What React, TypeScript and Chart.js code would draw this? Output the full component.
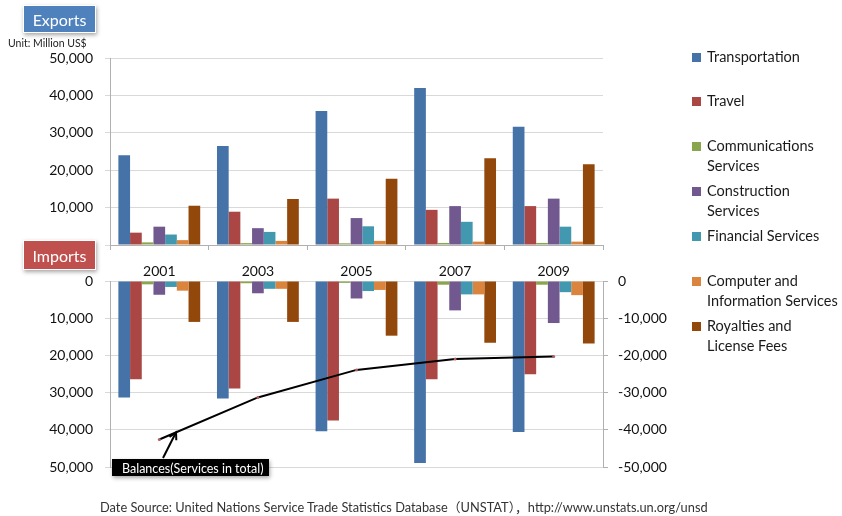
import React, { useEffect, useRef } from 'react';
import { Chart, registerables } from 'chart.js';

Chart.register(...registerables);

// Categories
const years = ['2001', '2003', '2005', '2007', '2009'];

// Series names (legend order)
const seriesNames = [
  'Transportation',
  'Travel',
  'Communications Services',
  'Construction Services',
  'Financial Services',
  'Computer and Information Services',
  'Royalties and License Fees',
];

// Legend labels as they wrap
const legendLines = [
  ['Transportation'],
  ['Travel'],
  ['Communications', 'Services'],
  ['Construction', 'Services'],
  ['Financial Services'],
  ['Computer and', 'Information Services'],
  ['Royalties and', 'License Fees'],
];

const seriesColors = ['#4572A7', '#AA4643', '#89A54E', '#71588F', '#4198AF', '#DB843D', '#93480B'];

// Exports (Million US$)
const exTransportation = [24000, 26500, 35800, 42000, 31600];
const exTravel = [3300, 8900, 12400, 9400, 10400];
const exCommunications = [700, 500, 450, 550, 550];
const exConstruction = [4900, 4500, 7200, 10400, 12400];
const exFinancial = [2800, 3500, 5000, 6200, 4900];
const exComputer = [1300, 1100, 1100, 900, 900];
const exRoyalties = [10500, 12300, 17700, 23200, 21600];

// Imports (Million US$)
const imTransportation = [31300, 31600, 40400, 48900, 40600];
const imTravel = [26400, 28900, 37500, 26400, 25100];
const imCommunications = [900, 600, 500, 1000, 1000];
const imConstruction = [3700, 3300, 4700, 7900, 11300];
const imFinancial = [1600, 2100, 2700, 3600, 3000];
const imComputer = [2600, 2100, 2400, 3600, 3800];
const imRoyalties = [11000, 11000, 14700, 16600, 16800];

// Services balance in total
const balanceTotal = [-42600, -31300, -23900, -21000, -20300];

// Axis tick range
const axisMax = 50000;
const axisStep = 10000;

const FONT = 'Lato, "Open Sans", sans-serif';
const GRID = '#d9d9d9';
const AXIS = '#b0b0b0';
const TEXT = '#111';

const exportSeries = [exTransportation, exTravel, exCommunications, exConstruction, exFinancial, exComputer, exRoyalties];
const importSeries = [imTransportation, imTravel, imCommunications, imConstruction, imFinancial, imComputer, imRoyalties];

const fmt = (v: number) => Math.round(v).toLocaleString('en-US');

// Keep the plot area exactly where the layout padding puts it
const fixWidth = (w: number) => (s: any) => {
  s.width = w;
  s.paddingTop = 0;
  s.paddingBottom = 0;
};

const balanceLabelPlugin = {
  id: 'balanceLabel',
  afterDatasetsDraw(chart: any) {
    const { ctx, chartArea, scales } = chart;
    const x = scales.x;
    const y2 = scales.y2;
    const p0 = { x: x.getPixelForValue(0), y: y2.getPixelForValue(balanceTotal[0]) };
    const p1 = { x: x.getPixelForValue(1), y: y2.getPixelForValue(balanceTotal[1]) };
    const tip = { x: p0.x + (p1.x - p0.x) * 0.17, y: p0.y + (p1.y - p0.y) * 0.17 };

    const boxX = chartArea.left + 2;
    const boxY = chartArea.bottom - 8;
    const boxW = 157;
    const boxH = 17;
    const tail = { x: boxX + 51, y: boxY - 1 };

    ctx.save();
    // arrow
    ctx.strokeStyle = '#000';
    ctx.lineWidth = 2;
    ctx.beginPath();
    ctx.moveTo(tail.x, tail.y);
    ctx.lineTo(tip.x, tip.y);
    ctx.stroke();
    const ang = Math.atan2(tip.y - tail.y, tip.x - tail.x);
    const hl = 8;
    ctx.beginPath();
    ctx.moveTo(tip.x - hl * Math.cos(ang - 0.5), tip.y - hl * Math.sin(ang - 0.5));
    ctx.lineTo(tip.x, tip.y);
    ctx.lineTo(tip.x - hl * Math.cos(ang + 0.5), tip.y - hl * Math.sin(ang + 0.5));
    ctx.stroke();

    // label box
    ctx.shadowColor = 'rgba(0,0,0,0.35)';
    ctx.shadowBlur = 4;
    ctx.shadowOffsetX = 1;
    ctx.shadowOffsetY = 2;
    ctx.fillStyle = '#000';
    ctx.fillRect(boxX, boxY, boxW, boxH);
    ctx.shadowColor = 'transparent';
    ctx.fillStyle = '#fff';
    ctx.font = `12.5px ${FONT}`;
    ctx.textBaseline = 'middle';
    ctx.textAlign = 'left';
    ctx.fillText('Balances(Services in total)', boxX + 10, boxY + boxH / 2 + 1);
    ctx.restore();
  },
};

export default function App() {
  const topRef = useRef<HTMLCanvasElement>(null);
  const botRef = useRef<HTMLCanvasElement>(null);

  useEffect(() => {
    document.body.style.margin = '0';
    const tickFont = { family: FONT, size: 14 };

    const top = new Chart(topRef.current!, {
      type: 'bar',
      data: {
        labels: years,
        datasets: seriesNames.map((name, i) => ({
          label: name,
          data: exportSeries[i],
          backgroundColor: seriesColors[i],
          borderWidth: 0,
          categoryPercentage: 0.83,
          barPercentage: 1,
        })),
      },
      options: {
        animation: false,
        responsive: false,
        maintainAspectRatio: false,
        layout: { padding: { left: 0, right: 239, top: 58, bottom: 0 } },
        plugins: { legend: { display: false }, tooltip: { enabled: false } },
        scales: {
          x: {
            afterFit: (s: any) => { s.height = 35; },
            grid: { drawOnChartArea: false, drawTicks: true, tickLength: 5, color: AXIS, offset: true },
            border: { display: true, color: AXIS },
            ticks: { font: tickFont, color: TEXT, padding: 13 },
          },
          y: {
            min: 0,
            max: axisMax,
            afterFit: fixWidth(110),
            grid: { color: GRID, tickLength: 5 },
            border: { display: true, color: AXIS },
            ticks: { stepSize: axisStep, font: tickFont, color: TEXT, padding: 12, callback: (v: any) => fmt(v) },
          },
        },
      },
    });

    const bottom = new Chart(botRef.current!, {
      type: 'bar',
      data: {
        labels: years,
        datasets: [
          {
            type: 'line',
            label: 'Balances(Services in total)',
            data: balanceTotal,
            yAxisID: 'y2',
            borderColor: '#000',
            borderWidth: 2,
            pointRadius: 1.5,
            pointBackgroundColor: '#b06060',
            pointBorderWidth: 0,
            tension: 0,
            order: 0,
          } as any,
          ...seriesNames.map((name, i) => ({
            label: name,
            data: importSeries[i],
            yAxisID: 'y',
            backgroundColor: seriesColors[i],
            borderWidth: 0,
            categoryPercentage: 0.83,
            barPercentage: 1,
            order: 1,
          })),
        ],
      },
      options: {
        animation: false,
        responsive: false,
        maintainAspectRatio: false,
        layout: { padding: { left: 0, right: 0, top: 11, bottom: 49 } },
        plugins: { legend: { display: false }, tooltip: { enabled: false } },
        scales: {
          x: { display: false, offset: true },
          y: {
            position: 'left',
            reverse: true,
            min: 0,
            max: axisMax,
            afterFit: fixWidth(110),
            grid: { color: GRID, tickLength: 5 },
            border: { display: true, color: AXIS },
            ticks: { stepSize: axisStep, font: tickFont, color: TEXT, padding: 12, callback: (v: any) => fmt(v) },
          },
          y2: {
            position: 'right',
            min: -axisMax,
            max: 0,
            afterFit: fixWidth(239),
            grid: { drawOnChartArea: false, color: AXIS, tickLength: 5 },
            border: { display: true, color: AXIS },
            ticks: { stepSize: axisStep, font: tickFont, color: TEXT, padding: 10, callback: (v: any) => fmt(v) },
          },
        },
      },
      plugins: [balanceLabelPlugin],
    });

    return () => {
      top.destroy();
      bottom.destroy();
    };
  }, []);

  const tagStyle = (bg: string, top: number, h: number): React.CSSProperties => ({
    position: 'absolute',
    left: 23,
    top,
    width: 73,
    height: h,
    background: bg,
    color: '#fff',
    font: `16px ${FONT}`,
    display: 'flex',
    alignItems: 'center',
    justifyContent: 'center',
    border: '1px solid #fff',
    boxShadow: '1px 2px 4px rgba(0,0,0,0.35)',
    boxSizing: 'border-box',
  });

  const legendTops = [57, 101, 146, 191, 236, 281, 326];

  return (
    <div style={{ position: 'absolute', left: 0, top: 0, width: 842, height: 516, background: '#fff', overflow: 'hidden', fontFamily: FONT }}>
      <canvas ref={topRef} width={842} height={280} style={{ position: 'absolute', left: 0, top: 0, width: 842, height: 280 }} />
      <canvas ref={botRef} width={842} height={246} style={{ position: 'absolute', left: 0, top: 270, width: 842, height: 246 }} />

      <div style={tagStyle('#4F81BD', 5, 28)}>Exports</div>
      <div style={tagStyle('#C0504D', 240, 30)}>Imports</div>
      <div style={{ position: 'absolute', left: 8, top: 37, font: `10.5px ${FONT}`, color: '#222', whiteSpace: 'nowrap' }}>Unit: Million US$</div>

      {legendLines.map((lines, i) => (
        <div key={i} style={{ position: 'absolute', left: 692, top: legendTops[i] - 10 }}>
          <div style={{ position: 'absolute', left: 0, top: 6, width: 9, height: 9, background: seriesColors[i] }} />
          <div style={{ position: 'absolute', left: 15, top: 0, font: `14.5px ${FONT}`, lineHeight: '20px', color: '#1a1a1a', whiteSpace: 'nowrap' }}>
            {lines.map((l, j) => (
              <div key={j}>{l}</div>
            ))}
          </div>
        </div>
      ))}

      <div lang="ja" style={{ position: 'absolute', left: 100, top: 497, font: `12.8px Lato, "Noto Sans CJK JP", sans-serif`, color: '#333', whiteSpace: 'nowrap' }}>
        Date Source: United Nations Service Trade Statistics Database（UNSTAT），http://www.unstats.un.org/unsd
      </div>
    </div>
  );
}
